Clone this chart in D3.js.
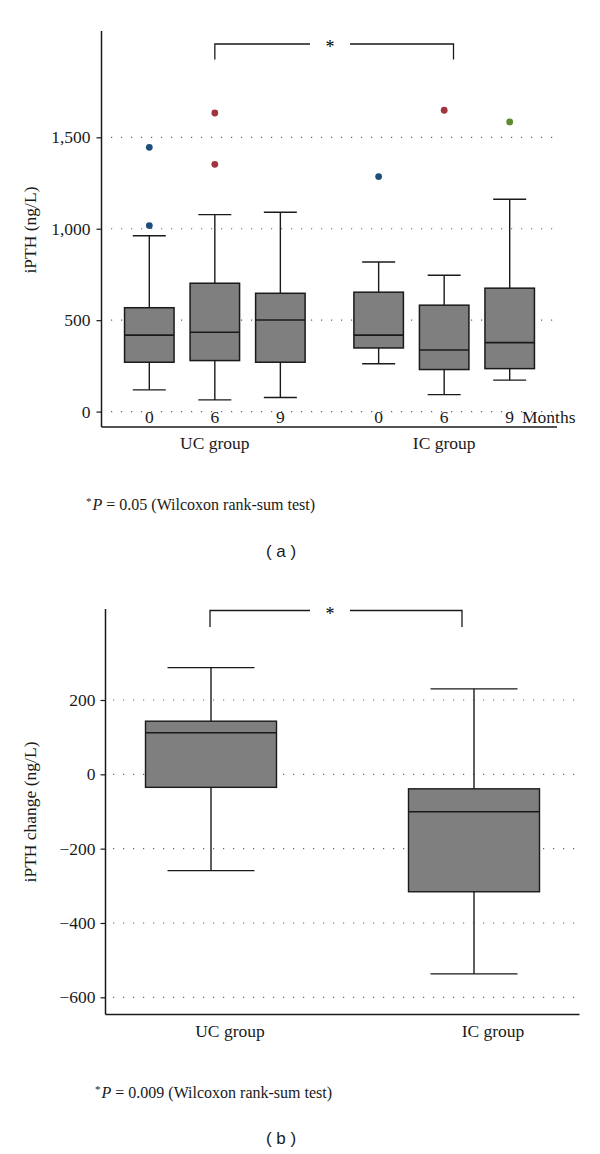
<!DOCTYPE html>
<html><head><meta charset="utf-8">
<script src="https://cdn.jsdelivr.net/npm/d3@7"></script>
<style>
html,body{margin:0;padding:0;background:#fff;}
svg{display:block;}
</style></head>
<body>
<script>
// ---------- Data: panel (a) ----------
const groupsA = ["UC group", "IC group"];
const monthsA = ["0", "6", "9"];
// each box: [whiskerLow, q1, median, q3, whiskerHigh]
const ucBoxes = [
  [119, 270, 418, 568, 962],
  [64, 279, 434, 702, 1077],
  [77, 270, 501, 647, 1090]
];
const icBoxes = [
  [262, 348, 418, 653, 818],
  [93, 230, 337, 582, 746],
  [172, 235, 377, 675, 1161]
];
const ucOutliers = [[1445, 1017], [1633, 1352], []];
const icOutliers = [[1285], [1648], [1584]];
const outlierColorsA = ["#1d4f7c", "#a0343f", "#5e8a2e"];
const yTicksA = [0, 500, 1000, 1500];

// ---------- Data: panel (b) ----------
const groupsB = ["UC group", "IC group"];
const boxesB = [
  [-259, -35, 112, 143, 287],
  [-537, -316, -101, -39, 230]
];
const yTicksB = [-600, -400, -200, 0, 200];

const W = 600, H = 1154;
const svg = d3.select("body").append("svg").attr("width", W).attr("height", H);
const serif = "'Liberation Serif', 'DejaVu Serif', serif";
const sans = "'Liberation Sans', Arial, sans-serif";
const boxFill = "#7f7f7f", ink = "#1a1a1a";
const FS = 17.5;

// ================= Panel (a) =================
const gA = svg.append("g");
const yA = d3.scaleLinear().domain([0, 1500]).range([411.6, 137.3]);
const xA = d3.scaleLinear().domain([0, 5.5]).range([149.3, 509.7]);
const axisXA = 101.5, axisBottomA = 427, axisTopA = 31, axisRightA = 557;

gA.selectAll("line.grid").data(yTicksA).join("line")
  .attr("x1", 111).attr("x2", 556)
  .attr("y1", d => yA(d)).attr("y2", d => yA(d))
  .attr("stroke", "#666").attr("stroke-width", 1.2)
  .attr("stroke-dasharray", "1.2,8.8");

const yAxisA = d3.axisLeft(yA).tickValues(yTicksA).tickSize(5).tickFormat(d3.format(","));
const yaxA = gA.append("g").attr("transform", `translate(${axisXA},0)`).call(yAxisA);
yaxA.select(".domain").remove();
yaxA.selectAll(".tick line").attr("stroke", ink).attr("stroke-width", 1.2);
yaxA.selectAll(".tick text").attr("font-family", serif).attr("font-size", FS).attr("fill", ink).attr("x", -11);
gA.append("line").attr("x1", axisXA).attr("x2", axisXA).attr("y1", axisTopA).attr("y2", axisBottomA)
  .attr("stroke", ink).attr("stroke-width", 1.5);
gA.append("line").attr("x1", axisXA).attr("x2", axisRightA).attr("y1", axisBottomA).attr("y2", axisBottomA)
  .attr("stroke", ink).attr("stroke-width", 1.5);

const allA = [];
groupsA.forEach((g, gi) => {
  const boxes = gi === 0 ? ucBoxes : icBoxes;
  const outs = gi === 0 ? ucOutliers : icOutliers;
  monthsA.forEach((m, mi) => {
    allA.push({ pos: gi * 3.5 + mi, month: m, v: boxes[mi], outs: outs[mi], color: outlierColorsA[mi] });
  });
});

const boxWA = 49.5, capWA = 33;
const bA = gA.selectAll("g.box").data(allA).join("g").attr("class", "box");
bA.append("line").attr("x1", d => xA(d.pos)).attr("x2", d => xA(d.pos))
  .attr("y1", d => yA(d.v[4])).attr("y2", d => yA(d.v[0])).attr("stroke", ink).attr("stroke-width", 1.4);
bA.append("line").attr("x1", d => xA(d.pos) - capWA / 2).attr("x2", d => xA(d.pos) + capWA / 2)
  .attr("y1", d => yA(d.v[4])).attr("y2", d => yA(d.v[4])).attr("stroke", ink).attr("stroke-width", 1.4);
bA.append("line").attr("x1", d => xA(d.pos) - capWA / 2).attr("x2", d => xA(d.pos) + capWA / 2)
  .attr("y1", d => yA(d.v[0])).attr("y2", d => yA(d.v[0])).attr("stroke", ink).attr("stroke-width", 1.4);
bA.append("rect").attr("x", d => xA(d.pos) - boxWA / 2).attr("width", boxWA)
  .attr("y", d => yA(d.v[3])).attr("height", d => yA(d.v[1]) - yA(d.v[3]))
  .attr("fill", boxFill).attr("stroke", ink).attr("stroke-width", 1.5);
bA.append("line").attr("x1", d => xA(d.pos) - boxWA / 2).attr("x2", d => xA(d.pos) + boxWA / 2)
  .attr("y1", d => yA(d.v[2])).attr("y2", d => yA(d.v[2])).attr("stroke", ink).attr("stroke-width", 1.6);
bA.selectAll("circle").data(d => d.outs.map(o => ({ o, pos: d.pos, color: d.color }))).join("circle")
  .attr("cx", d => xA(d.pos)).attr("cy", d => yA(d.o)).attr("r", 3.4).attr("fill", d => d.color);

gA.selectAll("text.month").data(allA).join("text")
  .attr("x", d => xA(d.pos)).attr("y", 423).attr("text-anchor", "middle")
  .attr("font-family", serif).attr("font-size", FS).attr("fill", ink).text(d => d.month);
gA.append("text").attr("x", 522).attr("y", 423).attr("font-family", serif).attr("font-size", FS)
  .attr("fill", ink).text("Months");

gA.selectAll("text.group").data(groupsA).join("text")
  .attr("x", (d, i) => xA(i * 3.5 + 1)).attr("y", 449).attr("text-anchor", "middle")
  .attr("font-family", serif).attr("font-size", FS).attr("fill", ink).text(d => d);

gA.append("text").attr("transform", "translate(36,230) rotate(-90)").attr("text-anchor", "middle")
  .attr("font-family", serif).attr("font-size", FS).attr("fill", ink).text("iPTH (ng/L)");

function bracket(g, x1, x2, yTop, yBot, starX) {
  const p = `M${x1},${yBot} V${yTop} H${starX - 20} M${starX + 20},${yTop} H${x2} V${yBot}`;
  g.append("path").attr("d", p).attr("fill", "none").attr("stroke", ink).attr("stroke-width", 1.3);
  g.append("text").attr("x", starX).attr("y", yTop + 9).attr("text-anchor", "middle")
    .attr("font-family", serif).attr("font-size", 18).attr("fill", "#000").text("*");
}
bracket(gA, xA(1), 453.5, 44, 59.5, 330);

function footnote(g, x, y, p) {
  const t = g.append("text").attr("x", x).attr("y", y).attr("font-family", serif).attr("font-size", 16).attr("fill", ink);
  t.append("tspan").attr("font-size", 11).attr("dy", -5).text("*");
  t.append("tspan").attr("font-style", "italic").attr("dy", 5).attr("dx", 1).text("P");
  t.append("tspan").text(` = ${p} (Wilcoxon rank-sum test)`);
}
footnote(gA, 86, 510, "0.05");
svg.append("text").attr("x", 281).attr("y", 557).attr("text-anchor", "middle")
  .attr("font-family", sans).attr("font-size", 17).attr("fill", ink).attr("xml:space", "preserve").text("( a )");

// ================= Panel (b) =================
const gB = svg.append("g");
const yB = d3.scaleLinear().domain([-600, 200]).range([997.3, 700]);
const xB = d3.scalePoint().domain(groupsB).range([211, 474]);
const axisXB = 105.5, axisBottomB = 1014.5, axisTopB = 609, axisRightB = 579.5;

gB.selectAll("line.grid").data(yTicksB).join("line")
  .attr("x1", 113).attr("x2", 576)
  .attr("y1", d => yB(d)).attr("y2", d => yB(d))
  .attr("stroke", "#666").attr("stroke-width", 1.2)
  .attr("stroke-dasharray", "1.2,8.8");

const yAxisB = d3.axisLeft(yB).tickValues(yTicksB).tickSize(5).tickFormat(d => d < 0 ? "\u2212" + Math.abs(d) : d);
const yaxB = gB.append("g").attr("transform", `translate(${axisXB},0)`).call(yAxisB);
yaxB.select(".domain").remove();
yaxB.selectAll(".tick line").attr("stroke", ink).attr("stroke-width", 1.2);
yaxB.selectAll(".tick text").attr("font-family", serif).attr("font-size", FS).attr("fill", ink).attr("x", -10);
gB.append("line").attr("x1", axisXB).attr("x2", axisXB).attr("y1", axisTopB).attr("y2", axisBottomB)
  .attr("stroke", ink).attr("stroke-width", 1.5);
gB.append("line").attr("x1", axisXB).attr("x2", axisRightB).attr("y1", axisBottomB).attr("y2", axisBottomB)
  .attr("stroke", ink).attr("stroke-width", 1.5);

const allB = groupsB.map((g, i) => ({ g, v: boxesB[i] }));
const boxWB = 131, capWB = 87;
const bB = gB.selectAll("g.box").data(allB).join("g").attr("class", "box");
bB.append("line").attr("x1", d => xB(d.g)).attr("x2", d => xB(d.g))
  .attr("y1", d => yB(d.v[4])).attr("y2", d => yB(d.v[0])).attr("stroke", ink).attr("stroke-width", 1.4);
bB.append("line").attr("x1", d => xB(d.g) - capWB / 2).attr("x2", d => xB(d.g) + capWB / 2)
  .attr("y1", d => yB(d.v[4])).attr("y2", d => yB(d.v[4])).attr("stroke", ink).attr("stroke-width", 1.4);
bB.append("line").attr("x1", d => xB(d.g) - capWB / 2).attr("x2", d => xB(d.g) + capWB / 2)
  .attr("y1", d => yB(d.v[0])).attr("y2", d => yB(d.v[0])).attr("stroke", ink).attr("stroke-width", 1.4);
bB.append("rect").attr("x", d => xB(d.g) - boxWB / 2).attr("width", boxWB)
  .attr("y", d => yB(d.v[3])).attr("height", d => yB(d.v[1]) - yB(d.v[3]))
  .attr("fill", boxFill).attr("stroke", ink).attr("stroke-width", 1.4);
bB.append("line").attr("x1", d => xB(d.g) - boxWB / 2).attr("x2", d => xB(d.g) + boxWB / 2)
  .attr("y1", d => yB(d.v[2])).attr("y2", d => yB(d.v[2])).attr("stroke", ink).attr("stroke-width", 1.5);

gB.selectAll("text.group").data(groupsB).join("text")
  .attr("x", d => xB(d) + 19).attr("y", 1037).attr("text-anchor", "middle")
  .attr("font-family", serif).attr("font-size", FS).attr("fill", ink).text(d => d);

gB.append("text").attr("transform", "translate(36,812) rotate(-90)").attr("text-anchor", "middle")
  .attr("font-family", serif).attr("font-size", FS).attr("fill", ink).text("iPTH change (ng/L)");

bracket(gB, xB("UC group") - 1, 462, 610.5, 627, 330);

footnote(gB, 95, 1098, "0.009");
svg.append("text").attr("x", 281).attr("y", 1144).attr("text-anchor", "middle")
  .attr("font-family", sans).attr("font-size", 17).attr("fill", ink).attr("xml:space", "preserve").text("( b )");
</script>
</body></html>
